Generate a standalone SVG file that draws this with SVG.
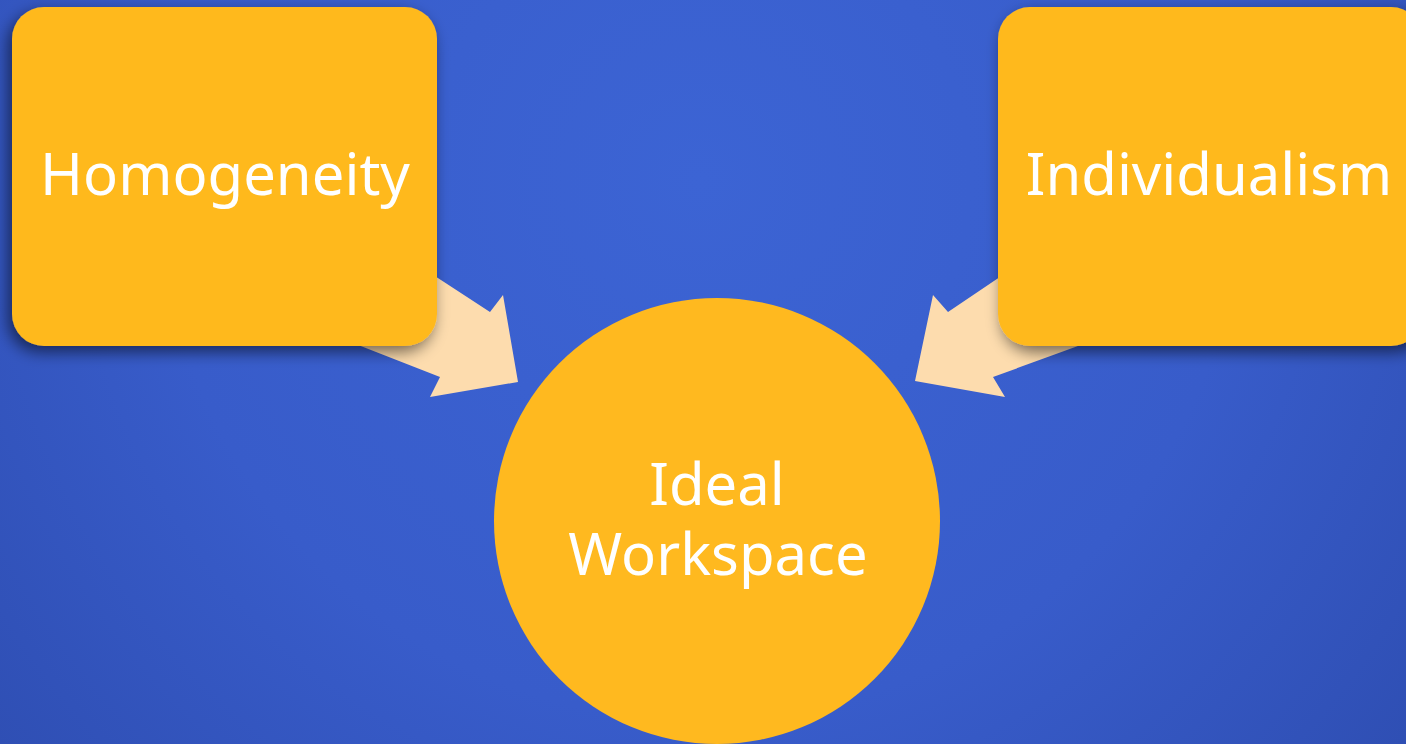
<svg xmlns="http://www.w3.org/2000/svg" width="1406" height="744" viewBox="0 0 1406 744">
<defs>
<radialGradient id="bg" cx="700" cy="180" r="900" gradientUnits="userSpaceOnUse">
<stop offset="0" stop-color="#3c64d4"/>
<stop offset="0.6" stop-color="#385cca"/>
<stop offset="1" stop-color="#2f4fb4"/>
</radialGradient>
<filter id="sh" x="-10%" y="-10%" width="130%" height="130%">
<feGaussianBlur in="SourceAlpha" stdDeviation="8"/>
<feOffset dx="-4" dy="6" result="b"/>
<feComponentTransfer><feFuncA type="linear" slope="0.55"/></feComponentTransfer>
<feMerge><feMergeNode/><feMergeNode in="SourceGraphic"/></feMerge>
</filter>
<filter id="shr" x="-10%" y="-10%" width="130%" height="130%">
<feGaussianBlur in="SourceAlpha" stdDeviation="8"/>
<feOffset dx="4" dy="6" result="b"/>
<feComponentTransfer><feFuncA type="linear" slope="0.55"/></feComponentTransfer>
<feMerge><feMergeNode/><feMergeNode in="SourceGraphic"/></feMerge>
</filter>
</defs>
<style>
.node{fill:#ffb91f}
.arrow{fill:#fddcae}
.lbl{font-family:"Noto Sans","Open Sans",sans-serif;font-size:58px;fill:#ffffff;text-anchor:middle}
</style>
<rect width="1406" height="744" fill="url(#bg)"/>
<g id="connectors">
<polygon class="arrow" points="395,250 490,312 503,295 518,382 430,397 440,377 330,334"/>
<polygon class="arrow" points="1040,250 948,312 933,295 915,381 1005,397 993,377 1100,338"/>
</g>
<g id="homogeneity">
<rect class="node" x="12" y="7" width="425" height="339" rx="32" filter="url(#sh)"/>
<text class="lbl" x="225" y="195">Homogeneity</text>
</g>
<g id="individualism">
<rect class="node" x="998" y="7" width="425" height="339" rx="32" filter="url(#shr)"/>
<text class="lbl" x="1209" y="195">Individualism</text>
</g>
<g id="ideal-workspace">
<circle class="node" cx="717" cy="521" r="223"/>
<text class="lbl" x="717" y="505">Ideal</text>
<text class="lbl" x="718" y="575">Workspace</text>
</g>
</svg>
